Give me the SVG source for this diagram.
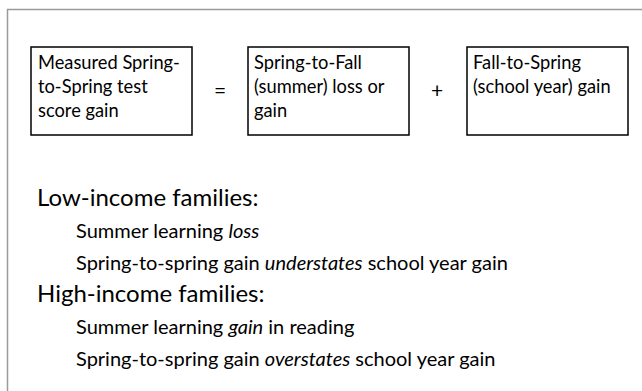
<svg xmlns="http://www.w3.org/2000/svg" width="642" height="391" viewBox="0 0 642 391">
<style>
.frame{fill:none;stroke:#9a9a9a;stroke-width:1.5}
.box{fill:#fff;stroke:#000;stroke-width:1.5}
.bt{font-family:Lato,"Liberation Sans",sans-serif;font-size:18.3px;fill:#000}
.op{font-family:Lato,"Liberation Sans",sans-serif;font-size:21px;fill:#000;text-anchor:middle}
.h{font-family:Lato,"Liberation Sans",sans-serif;font-size:24px;fill:#000}
.s{font-family:Lato,"Liberation Sans",sans-serif;font-size:20px;fill:#000}
</style>
<rect width="642" height="391" fill="#fff"/>
<rect class="frame" x="7.5" y="9.5" width="650" height="400"/>
<g id="node-measured">
<rect class="box" x="31" y="47" width="161" height="88"/>
<text class="bt" x="38" y="69">Measured Spring-</text>
<text class="bt" x="38" y="93">to-Spring test</text>
<text class="bt" x="38" y="117">score gain</text>
</g>
<g id="node-summer">
<rect class="box" x="248" y="47" width="161" height="88"/>
<text class="bt" x="254" y="69">Spring-to-Fall</text>
<text class="bt" x="254" y="93">(summer) loss or</text>
<text class="bt" x="254" y="117">gain</text>
</g>
<g id="node-school">
<rect class="box" x="467" y="47" width="161" height="88"/>
<text class="bt" x="473" y="69">Fall-to-Spring</text>
<text class="bt" x="473" y="93">(school year) gain</text>
</g>
<g id="operators">
<text class="op" x="220" y="98">=</text>
<text class="op" x="437" y="98">+</text>
</g>
<g id="notes">
<text class="h" x="37" y="206">Low-income families:</text>
<text class="s" x="76" y="238">Summer learning <tspan font-style="italic">loss</tspan></text>
<text class="s" x="76" y="270">Spring-to-spring gain <tspan font-style="italic">understates</tspan> school year gain</text>
<text class="h" x="37" y="302">High-income families:</text>
<text class="s" x="76" y="334">Summer learning <tspan font-style="italic">gain</tspan> in reading</text>
<text class="s" x="76" y="366">Spring-to-spring gain <tspan font-style="italic">overstates</tspan> school year gain</text>
</g>
</svg>
